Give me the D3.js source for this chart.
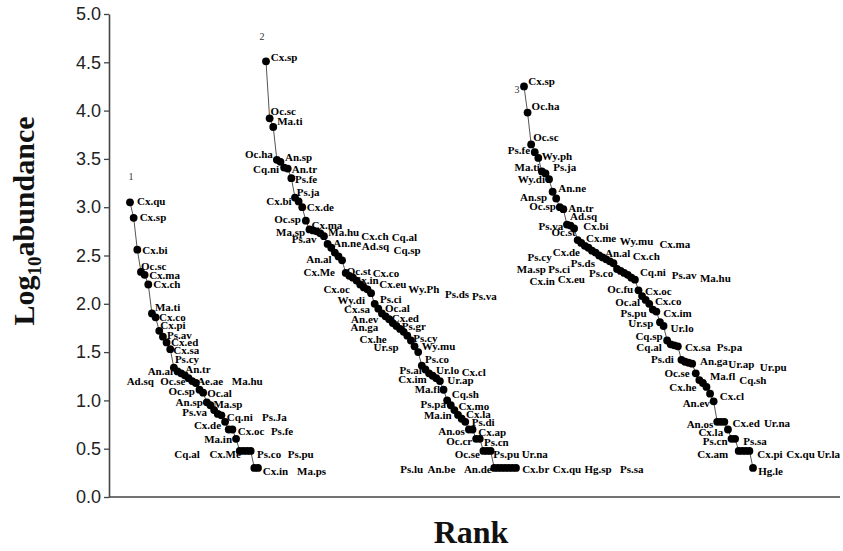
<!DOCTYPE html>
<html>
<head>
<meta charset="utf-8">
<script src="https://cdn.jsdelivr.net/npm/d3@7"></script>
<style>
  html, body { margin: 0; padding: 0; background: #fff; }
  svg { display: block; }
</style>
</head>
<body>
<svg id="chart" width="843" height="551"></svg>
<script>
// ---- Data: log10 abundance by rank, one list per site ----
const site1Species = ["Cx.qu","Cx.sp","Cx.bi","Oc.sc","Cx.ma","Cx.ch","Ma.ti","Cx.co","Cx.pi","Ps.av",
  "Cx.ed","Cx.sa","Ps.cy","An.al","An.tr","Ad.sq","Oc.se","Ae.ae","Ma.hu","Oc.sp",
  "Oc.al","An.sp","Ma.sp","Ps.va","Cq.ni","Ps.Ja","Cx.de","Cx.oc","Ps.fe","Ma.in",
  "Cq.al","Cx.Me","Ps.co","Ps.pu","Cx.in","Ma.ps"];
const site1Values = [3.05,2.89,2.56,2.33,2.30,2.20,1.90,1.86,1.72,1.66,
  1.60,1.53,1.34,1.30,1.28,1.26,1.23,1.20,1.18,1.11,
  1.08,0.98,0.95,0.90,0.86,0.845,0.778,0.699,0.699,0.602,
  0.477,0.477,0.477,0.477,0.301,0.301];

const site2Species = ["Cx.sp","Oc.sc","Ma.ti","Oc.ha","An.sp","Cq.ni","An.tr","Ps.fe","Ps.ja","Cx.bi",
  "Cx.de","Oc.sp","Cx.ma","Ma.sp","Ma.hu","Cx.ch","Cq.al","Ps.av","An.ne","Ad.sq",
  "Cq.sp","An.al","Cx.Me","Oc.st","Cx.co","Cx.in","Cx.eu","Wy.Ph","Ps.ds","Ps.va",
  "Cx.oc","Wy.di","Ps.ci","Cx.sa","Oc.al","An.ev","Cx.ed","An.ga","Ps.gr","Cx.he",
  "Ps.cy","Ur.sp","Wy.mu","Ps.co","Ps.al","Ur.lo","Cx.cl","Cx.im","Ur.ap","Ma.fl",
  "Cq.sh","Ps.pa","Cx.mo","Ma.in","Cx.la","Ps.di","An.os","Cx.ap","Oc.cr","Ps.cn",
  "Oc.se","Ps.pu","Ur.na","Ps.lu","An.be","An.de","Cx.br","Cx.qu","Hg.sp","Ps.sa"];
const site2Values = [4.51,3.92,3.83,3.49,3.47,3.41,3.40,3.30,3.10,3.06,
  3.00,2.86,2.77,2.76,2.75,2.73,2.70,2.62,2.58,2.53,
  2.49,2.45,2.32,2.29,2.27,2.24,2.20,2.17,2.15,2.11,
  2.00,1.95,1.90,1.87,1.84,1.80,1.77,1.74,1.71,1.67,
  1.62,1.56,1.50,1.36,1.32,1.28,1.255,1.23,1.20,1.11,
  1.00,0.95,0.90,0.85,0.81,0.778,0.699,0.699,0.602,0.602,
  0.477,0.477,0.477,0.301,0.301,0.301,0.301,0.301,0.301,0.301];

const site3Species = ["Cx.sp","Oc.ha","Oc.sc","Ps.fe","Wy.ph","Ma.ti","Ps.ja","Wy.di","An.ne","An.sp",
  "Oc.sp","An.tr","Ad.sq","Ps.va","Cx.bi","Oc.st","Cx.me","Wy.mu","Cx.ma","Cx.de",
  "An.al","Cx.ch","Ps.cy","Ps.ds","Ma.sp","Ps.ci","Ps.co","Cq.ni","Ps.av","Ma.hu",
  "Cx.in","Cx.eu","Oc.fu","Cx.oc","Oc.al","Cx.co","Ps.pu","Cx.im","Ur.sp","Ur.lo",
  "Cq.sp","Cq.al","Cx.sa","Ps.pa","Ps.di","An.ga","Ur.ap","Ur.pu","Oc.se","Ma.fl",
  "Cq.sh","Cx.he","Cx.cl","An.ev","An.os","Cx.ed","Ur.na","Cx.la","Ps.cn","Ps.sa",
  "Cx.am","Cx.pi","Cx.qu","Ur.la","Hg.le"];
const site3Values = [4.25,3.98,3.65,3.57,3.51,3.37,3.35,3.29,3.16,3.09,
  3.00,2.98,2.82,2.81,2.78,2.66,2.63,2.60,2.58,2.55,
  2.53,2.50,2.48,2.46,2.44,2.42,2.36,2.34,2.32,2.30,
  2.27,2.25,2.14,2.08,2.04,2.00,1.94,1.92,1.81,1.77,
  1.62,1.58,1.57,1.56,1.42,1.40,1.39,1.38,1.28,1.21,
  1.18,1.14,1.07,0.99,0.778,0.778,0.778,0.699,0.602,0.602,
  0.477,0.477,0.477,0.477,0.301];

const siteNames = ["1", "2", "3"];
const yTicks = [0, 0.5, 1, 1.5, 2, 2.5, 3, 3.5, 4, 4.5, 5];

// ---- Label placement: [dx, dy, anchor] relative to each point ----
const site1Labels = [[7,-1,"s"],[6,-1,"s"],[5,0,"s"],[0,-6,"s"],[4.5,0,"s"],[5,0,"s"],[3,-6.5,"s"],[3.5,0,"s"],[1,-6,"s"],[4,-1.5,"s"],
  [4.5,0,"s"],[3,1,"s"],[1,-8.5,"s"],[-4.5,0,"e"],[4,-4.5,"s"],[-31,6,"e"],[-3,3,"e"],[5,0,"s"],[36,-2,"s"],[-4.5,1,"e"],
  [4,0,"s"],[-4,0,"e"],[3,-1,"s"],[-7,2,"e"],[9,3,"s"],[40.5,1.5,"s"],[-4,3,"e"],[9,1.5,"s"],[38.5,1.5,"s"],[-4,0,"e"],
  [-40,3,"e"],[-2.5,3,"e"],[10,3,"s"],[37,3,"s"],[8.5,3,"s"],[39,3,"s"]];
const site2Labels = [[4.7,-4,"s"],[1,-7,"s"],[4,-6,"s"],[-4,-6,"e"],[4.5,-5,"s"],[-5,1.5,"e"],[4,0,"s"],[3.6,1,"s"],[1.7,-6,"s"],[-7,0,"e"],
  [4.5,0,"s"],[-5,-1.5,"e"],[2,-4.5,"s"],[-8,2,"e"],[11.6,0.6,"s"],[41,3,"s"],[67.7,1.3,"s"],[-11,-5,"e"],[2,-5,"s"],[27,-6.6,"s"],
  [55,-6,"s"],[-10.4,-1.3,"e"],[-10.7,-1,"e"],[-2.6,-5,"s"],[19.7,-4.4,"s"],[-3.3,-1,"s"],[19,0,"s"],[44.5,1.6,"s"],[77.5,4.7,"s"],[101,3,"s"],
  [-24.7,-14.8,"e"],[-13.3,-8.3,"e"],[-2,-14.5,"s"],[-15.6,-7,"e"],[-4.2,-11.3,"s"],[-14.5,-4,"e"],[-4.7,-8.5,"s"],[-21.7,-2,"e"],[-2,-6,"s"],[-20.6,3.3,"e"],
  [2.4,-3,"s"],[-16,0.7,"e"],[3.6,-6,"s"],[3.2,-7,"s"],[-3.7,1,"e"],[7,-3.7,"s"],[29,-3.3,"s"],[-9.6,0.6,"e"],[7.4,-1,"s"],[-3.5,-1,"e"],
  [4.6,-6.6,"s"],[-4.8,-1,"e"],[4,-4.3,"s"],[-6.3,0,"e"],[4.4,-4.8,"s"],[6.4,0,"s"],[-4,2,"e"],[5.8,2.5,"s"],[-4,2,"e"],[4.2,3,"s"],
  [-3.4,3,"e"],[6.3,3,"s"],[31,3,"s"],[-71,1,"e"],[-42.5,1,"e"],[-9.8,1,"e"],[17,1,"s"],[44,1,"s"],[72,1,"s"],[104,1,"s"]];
const site3Labels = [[4.3,-5,"s"],[4,-6.7,"s"],[2,-7.7,"s"],[-4.7,-2.4,"e"],[3.4,-2,"s"],[-2,-4,"e"],[7.8,-6,"s"],[-4,0,"e"],[5.7,-4.2,"s"],[-9,-1.8,"e"],
  [-4,-1.4,"e"],[5,-0.8,"s"],[3,-8.6,"s"],[-7.2,0.3,"e"],[9.2,-2.7,"s"],[-2,-8,"e"],[4.7,-5.4,"s"],[35,-5,"s"],[71,-3.8,"s"],[-12,1.3,"e"],
  [9.4,0.7,"s"],[33.5,0.3,"s"],[-51,0,"e"],[-11.3,3.6,"e"],[-64,7.7,"e"],[-43.5,5.8,"e"],[-3.8,3.5,"e"],[19.3,1.5,"s"],[47.5,1.8,"s"],[72.2,2.7,"s"],
  [-76.4,3,"e"],[-50,-1,"e"],[-5.3,-0.8,"e"],[3,-5,"s"],[-5.7,2,"e"],[5.7,-3,"s"],[-6.2,3,"e"],[6.8,1,"s"],[-6.7,0.6,"e"],[7,1.5,"s"],
  [-4.5,-4.3,"e"],[-9,2.6,"e"],[10.6,1.7,"s"],[39,0.7,"s"],[-7.5,-0.8,"e"],[15,-0.5,"s"],[39.6,1.3,"s"],[67.7,3,"s"],[-6,0,"e"],[10.6,-4.3,"s"],
  [36.3,-3,"s"],[-10,0.6,"e"],[9.8,2.2,"s"],[-3.8,2,"e"],[-4,2,"e"],[11.8,1.5,"s"],[39.5,1.5,"s"],[-4.8,2.2,"e"],[-4,2,"e"],[8.1,2.5,"s"],
  [-10.5,3,"e"],[15,3,"s"],[40.5,3,"s"],[67.5,3,"s"],[5.2,3,"s"]];

// ---- Layout ----
const W = 843, H = 551;
const axisX = 109;
const y = d3.scaleLinear().domain([0, 5]).range([497, 14]);
const panelRanges = [[130, 258], [266, 516], [524, 753]];
const tagOffsets = [[1, -25], [-4, -24], [-7, 4]];

const sites = [
  { name: siteNames[0], species: site1Species, values: site1Values, labels: site1Labels },
  { name: siteNames[1], species: site2Species, values: site2Values, labels: site2Labels },
  { name: siteNames[2], species: site3Species, values: site3Values, labels: site3Labels }
];

const svg = d3.select("#chart");
svg.append("rect").attr("width", W).attr("height", H).attr("fill", "#fff");

// y axis
const yAxis = d3.axisLeft(y).tickValues(yTicks).tickFormat(d3.format(".1f"))
  .tickSize(5).tickSizeOuter(0).tickPadding(3);
const gy = svg.append("g").attr("transform", `translate(${axisX},0)`).call(yAxis);
gy.select(".domain").attr("stroke", "#444").attr("stroke-width", 1.6);
gy.selectAll(".tick line").attr("stroke", "#444").attr("stroke-width", 1.3);
gy.selectAll(".tick text")
  .attr("font-family", "'Liberation Sans', Arial, sans-serif")
  .attr("font-size", 18).attr("fill", "#222");

// baseline
svg.append("line")
  .attr("x1", axisX).attr("x2", 840)
  .attr("y1", y(0)).attr("y2", y(0))
  .attr("stroke", "#444").attr("stroke-width", 1.6);

// rank-abundance curves
const labelFont = "'Liberation Serif', 'Times New Roman', serif";
sites.forEach((site, k) => {
  const x = d3.scaleLinear().domain([1, site.values.length]).range(panelRanges[k]);
  const pts = site.values.map((v, i) => ({ r: i + 1, v, name: site.species[i], lab: site.labels[i] }));
  const g = svg.append("g");

  g.append("path")
    .datum(pts)
    .attr("fill", "none").attr("stroke", "#555").attr("stroke-width", 1)
    .attr("d", d3.line().x(d => x(d.r)).y(d => y(d.v)));

  g.selectAll("circle").data(pts).join("circle")
    .attr("cx", d => x(d.r)).attr("cy", d => y(d.v)).attr("r", 3.9)
    .attr("fill", "#000");

  g.selectAll("text.sp").data(pts).join("text")
    .attr("class", "sp")
    .attr("x", d => x(d.r) + d.lab[0])
    .attr("y", d => y(d.v) + d.lab[1] + 4)
    .attr("text-anchor", d => d.lab[2] === "e" ? "end" : "start")
    .attr("font-family", labelFont).attr("font-weight", "bold")
    .attr("font-size", 11).attr("fill", "#000")
    .text(d => d.name);

  g.append("text")
    .attr("x", x(1) + tagOffsets[k][0])
    .attr("y", y(site.values[0]) + tagOffsets[k][1] + 3)
    .attr("text-anchor", "middle")
    .attr("font-family", labelFont).attr("font-size", 10).attr("fill", "#333")
    .text(site.name);
});

// axis titles
const yt = svg.append("text")
  .attr("transform", "translate(34,221) rotate(-90)")
  .attr("text-anchor", "middle")
  .attr("font-family", labelFont).attr("font-weight", "bold")
  .attr("font-size", 30).attr("fill", "#111");
yt.append("tspan").text("Log");
yt.append("tspan").attr("font-size", 19).attr("dy", 7).text("10");
yt.append("tspan").attr("dy", -7).text("abundance");

svg.append("text")
  .attr("x", 471).attr("y", 543)
  .attr("text-anchor", "middle")
  .attr("font-family", labelFont).attr("font-weight", "bold")
  .attr("font-size", 32).attr("fill", "#111")
  .text("Rank");
</script>
</body>
</html>
